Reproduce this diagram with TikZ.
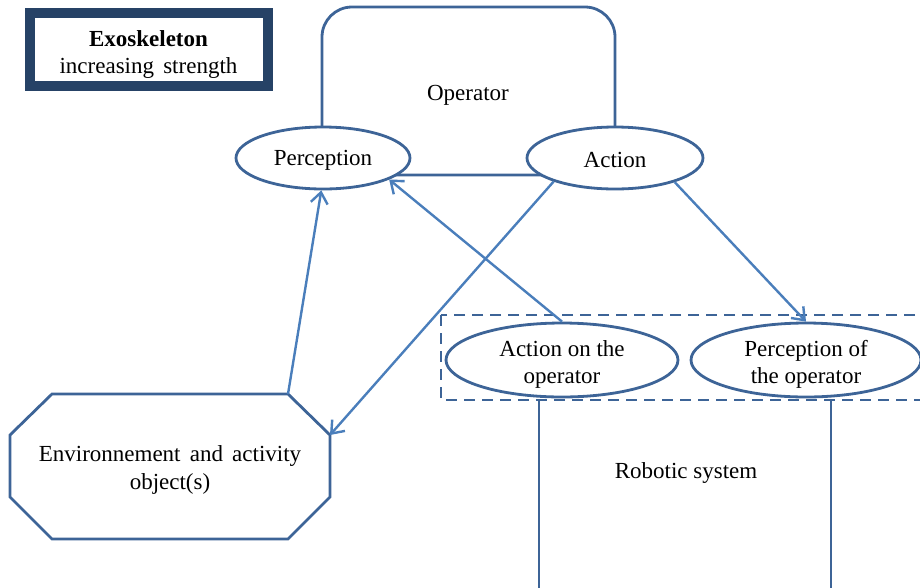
\documentclass[tikz,border=0pt]{standalone}
\usepackage{fontspec}
\setmainfont{Liberation Serif}
\usetikzlibrary{shapes.geometric,arrows.meta}
\definecolor{shapeblue}{HTML}{3D6497}
\definecolor{linkblue}{HTML}{4A7EBB}
\definecolor{navy}{HTML}{264266}
\tikzset{
  shapeline/.style={draw=shapeblue,line width=2.8pt},
  oval/.style={shapeline,ellipse,fill=white,inner sep=0pt},
  lbl/.style={align=center,font=\fontsize{23}{27.5}\selectfont,inner sep=0pt},
  link/.style={draw=linkblue,line width=2.4pt,-{Straight Barb[length=11pt,width=17pt,line width=2.4pt]}}
}
\begin{document}
\begin{tikzpicture}[x=1pt,y=-1pt]
\useasboundingbox (0,0) rectangle (920,587);
% title box
\draw[navy,line width=10pt] (30,12.5) rectangle (267.5,86);
\node[lbl] (title) at (148.5,54.5) {\textbf{Exoskeleton}\\increasing\hspace{0.4em}strength};
% operator frame
\draw[shapeline,rounded corners=30pt] (322,175) -- (322,7) -- (615,7) -- (615,175) -- cycle;
\node[lbl] (oplbl) at (468,95) {Operator};
% ellipses
\node[oval,minimum width=174pt,minimum height=62pt] (perc) at (323,158) {};
\node[lbl] (perclbl) at (323,160) {Perception};
\node[oval,minimum width=176pt,minimum height=62pt] (act) at (615,158) {};
\node[lbl] (actlbl) at (615,160) {Action};
% dashed frame
\draw[shapeline,dashed,dash pattern=on 11pt off 7pt] (441,315) rectangle (935,400);
\node[oval,minimum width=232pt,minimum height=74pt] (aop) at (562,360) {};
\node[lbl] (aoplbl) at (562,364.5) {Action on the\\operator};
\node[oval,minimum width=230pt,minimum height=74pt] (pop) at (806,360) {};
\node[lbl] (poplbl) at (806,364.5) {Perception of\\the operator};
% robotic system
\coordinate (rsl) at (539,400);
\coordinate (rsr) at (831,400);
\coordinate (rsl2) at (539,590);
\coordinate (rsr2) at (831,590);
\draw[shapeline] (rsl) -- (rsl2);
\draw[shapeline] (rsr) -- (rsr2);
\node[lbl] (rs) at (686,473) {Robotic system};
% environment octagon
\coordinate (e1) at (52,394);
\coordinate (e2) at (288,394);
\coordinate (e3) at (330,435);
\coordinate (e4) at (330,497);
\coordinate (e5) at (288,539);
\coordinate (e6) at (52,539);
\coordinate (e7) at (10,497);
\coordinate (e8) at (10,435);
\draw[shapeline,line join=miter] (e1) -- (e2) -- (e3) -- (e4) -- (e5) -- (e6) -- (e7) -- (e8) -- cycle;
\node[lbl] (env) at (170,470) {Environnement\hspace{0.4em}and\hspace{0.4em}activity\\object(s)};
% connectors
\draw[link] (e2) -- (perc.-93);
\draw[link] (act.-159) -- (e3);
\draw[link] (aop.north) -- (perc.-18);
\draw[link] (act.-22) -- (pop.north);
\end{tikzpicture}
\end{document}
